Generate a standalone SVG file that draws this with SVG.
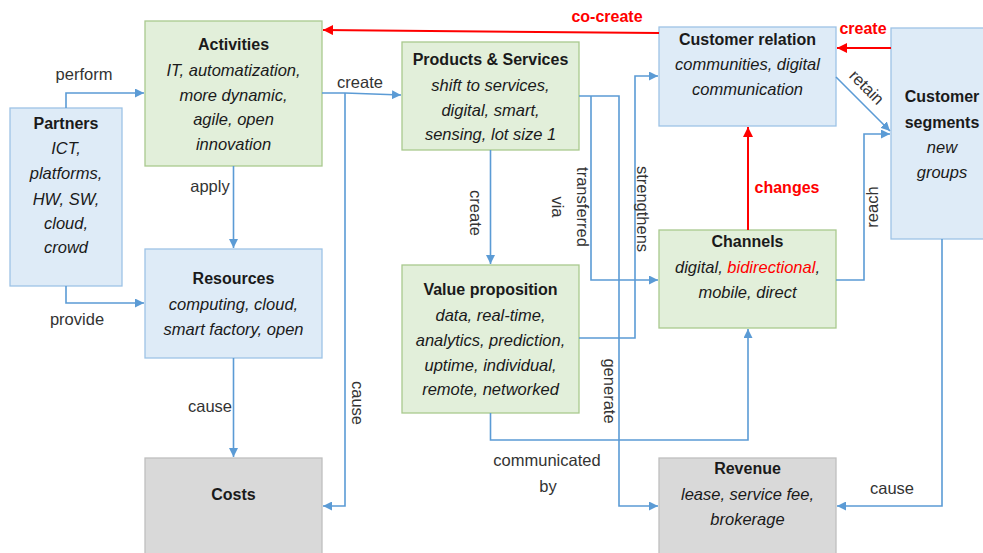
<svg xmlns="http://www.w3.org/2000/svg" width="983" height="553" viewBox="0 0 983 553">
<style>
text{font-family:"Liberation Sans",Arial,sans-serif;font-size:16.5px;fill:#1a1a1a}
.t{font-weight:bold;text-anchor:middle;font-size:16px}
.b{font-style:italic;text-anchor:middle}
.l{font-size:16.5px;fill:#333}
.m{text-anchor:middle}
.r{fill:#ff0000;font-weight:bold;text-anchor:middle;font-size:16px}
.green{fill:#e2efda;stroke:#a9c98e;stroke-width:1.3}
.blue{fill:#deebf7;stroke:#9dc3e6;stroke-width:1.3}
.gray{fill:#d9d9d9;stroke:#bfbfbf;stroke-width:1.3}
.c{fill:none;stroke:#5b9bd5;stroke-width:1.6}
.cr{fill:none;stroke:#ff0000;stroke-width:2}
</style>
<defs>
<marker id="ab" viewBox="0 0 10 10" refX="10" refY="5" markerWidth="9" markerHeight="9" markerUnits="userSpaceOnUse" orient="auto"><path d="M0,0 L10,5 L0,10 z" fill="#5b9bd5"/></marker>
<marker id="ar" viewBox="0 0 10 10" refX="10" refY="5" markerWidth="10" markerHeight="10" markerUnits="userSpaceOnUse" orient="auto"><path d="M0,0 L10,5 L0,10 z" fill="#ff0000"/></marker>
</defs>
<rect width="983" height="553" fill="#ffffff"/>

<g id="partners">
<rect class="blue" x="10" y="108" width="112" height="178"/>
<text class="t" x="66" y="129">Partners</text>
<text class="b" x="66" y="154">ICT,</text>
<text class="b" x="66" y="179">platforms,</text>
<text class="b" x="66" y="205">HW, SW,</text>
<text class="b" x="66" y="229">cloud,</text>
<text class="b" x="66" y="253">crowd</text>
</g>
<g id="activities">
<rect class="green" x="145" y="21" width="177" height="145"/>
<text class="t" x="233.5" y="50">Activities</text>
<text class="b" x="233.5" y="76">IT, automatization,</text>
<text class="b" x="233.5" y="101">more dynamic,</text>
<text class="b" x="233.5" y="125">agile, open</text>
<text class="b" x="233.5" y="150">innovation</text>
</g>
<g id="resources">
<rect class="blue" x="145" y="249" width="177" height="109"/>
<text class="t" x="233.5" y="284">Resources</text>
<text class="b" x="233.5" y="310">computing, cloud,</text>
<text class="b" x="233.5" y="335">smart factory, open</text>
</g>
<g id="costs">
<rect class="gray" x="145" y="458" width="177" height="110"/>
<text class="t" x="233.5" y="500">Costs</text>
</g>
<g id="products">
<rect class="green" x="402" y="42" width="177" height="108"/>
<text class="t" x="490.5" y="65">Products &amp; Services</text>
<text class="b" x="490.5" y="91">shift to services,</text>
<text class="b" x="490.5" y="116">digital, smart,</text>
<text class="b" x="490.5" y="140">sensing, lot size 1</text>
</g>
<g id="valueprop">
<rect class="green" x="402" y="265" width="177" height="148"/>
<text class="t" x="490.5" y="295">Value proposition</text>
<text class="b" x="490.5" y="321">data, real-time,</text>
<text class="b" x="490.5" y="346">analytics, prediction,</text>
<text class="b" x="490.5" y="371">uptime, individual,</text>
<text class="b" x="490.5" y="395">remote, networked</text>
</g>
<g id="customerrelation">
<rect class="blue" x="659" y="27" width="177" height="99"/>
<text class="t" x="747.5" y="45">Customer relation</text>
<text class="b" x="747.5" y="70">communities, digital</text>
<text class="b" x="747.5" y="95">communication</text>
</g>
<g id="channels">
<rect class="green" x="659" y="230" width="177" height="98"/>
<text class="t" x="747.5" y="247">Channels</text>
<text class="b" x="747.5" y="273">digital, <tspan fill="#ff0000">bidirectional</tspan>,</text>
<text class="b" x="747.5" y="298">mobile, direct</text>
</g>
<g id="segments">
<rect class="blue" x="891" y="28" width="110" height="211"/>
<text class="t" x="942" y="102">Customer</text>
<text class="t" x="942" y="128">segments</text>
<text class="b" x="942" y="153">new</text>
<text class="b" x="942" y="178">groups</text>
</g>
<g id="revenue">
<rect class="gray" x="659" y="458" width="177" height="110"/>
<text class="t" x="747.5" y="474">Revenue</text>
<text class="b" x="747.5" y="500">lease, service fee,</text>
<text class="b" x="747.5" y="525">brokerage</text>
</g>

<g id="connectors">
<path class="c" d="M66,108 V93 H144" marker-end="url(#ab)"/>
<path class="c" d="M66,286 V303 H144" marker-end="url(#ab)"/>
<path class="c" d="M233.5,166 V248" marker-end="url(#ab)"/>
<path class="c" d="M233.5,358 V457" marker-end="url(#ab)"/>
<path class="c" d="M322,93 H345 L401,95" marker-end="url(#ab)"/>
<path class="c" d="M345,93 V506 H323" marker-end="url(#ab)"/>
<path class="c" d="M490.5,150 V264" marker-end="url(#ab)"/>
<path class="c" d="M579,96 H619 V506 H658" marker-end="url(#ab)"/>
<path class="c" d="M591,96 V280 H658" marker-end="url(#ab)"/>
<path class="c" d="M579,338 H635 V76 H658" marker-end="url(#ab)"/>
<path class="c" d="M490.5,413 V440 H748 V329" marker-end="url(#ab)"/>
<path class="cr" d="M659,33 L323,30" marker-end="url(#ar)"/>
<path class="cr" d="M891,48 H837" marker-end="url(#ar)"/>
<path class="cr" d="M748,230 V127" marker-end="url(#ar)"/>
<path class="c" d="M836,77 L890,131" marker-end="url(#ab)"/>
<path class="c" d="M836,280 H864 V134 H890" marker-end="url(#ab)"/>
<path class="c" d="M942,239 V506 H837" marker-end="url(#ab)"/>

<text class="l m" x="84" y="80">perform</text>
<text class="l m" x="77" y="325">provide</text>
<text class="l m" x="210" y="192">apply</text>
<text class="l m" x="210" y="412">cause</text>
<text class="l m" x="360" y="88">create</text>
<text class="l m" transform="translate(358,403) rotate(90)" dominant-baseline="central">cause</text>
<text class="l m" transform="translate(476,213) rotate(90)" dominant-baseline="central">create</text>
<text class="l m" transform="translate(583,207) rotate(90)" dominant-baseline="central">transferred</text>
<text class="l m" transform="translate(558,207) rotate(90)" dominant-baseline="central">via</text>
<text class="l m" transform="translate(643,209) rotate(90)" dominant-baseline="central">strengthens</text>
<text class="l m" transform="translate(610,391) rotate(90)" dominant-baseline="central">generate</text>
<text class="l m" transform="translate(872,207) rotate(-90)" dominant-baseline="central">reach</text>
<text class="l m" transform="translate(867,87) rotate(45)" dominant-baseline="central">retain</text>
<text class="l m" x="547" y="466">communicated</text>
<text class="l m" x="548" y="492">by</text>
<text class="l m" x="892" y="494">cause</text>
<text class="r" x="607" y="22">co-create</text>
<text class="r" x="863" y="34">create</text>
<text class="r" x="787" y="193">changes</text>
</g>
</svg>
